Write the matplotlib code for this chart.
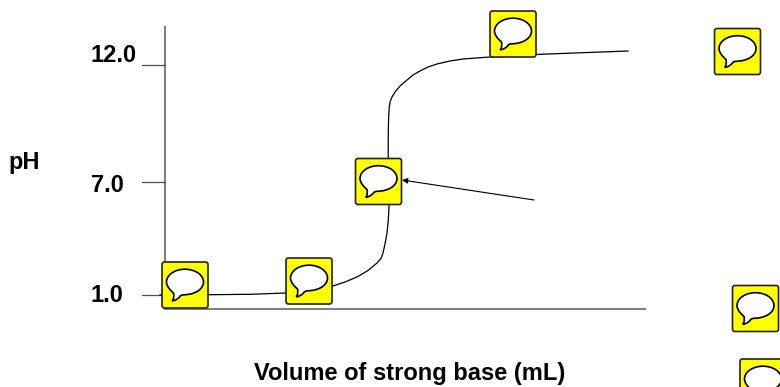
import matplotlib
matplotlib.use('Agg')
import matplotlib.pyplot as plt
import matplotlib.patches as mpatches
from matplotlib.path import Path

plt.rcParams['font.family'] = ['Liberation Sans', 'DejaVu Sans']

curve_x = [160, 210, 250, 286, 310, 333, 345, 357, 368, 377, 381, 383, 385, 387, 388.3, 389, 388.5, 388.2, 388.3, 388.6, 389.2, 390, 392, 395, 400, 407, 413, 420, 428, 437, 450, 463, 490, 535, 580, 628]
curve_y = [295, 294.7, 294.3, 293, 291, 286, 282, 277, 270.5, 263, 258.5, 253, 244, 233, 220, 207, 180, 150, 130, 118, 108, 102, 97, 92, 86, 80, 75, 71, 67, 64, 61, 59, 57, 54.5, 52.8, 51]

tick_y = [65, 181.5, 295]
tick_labels = ['12.0', '7.0', '1.0']
label_y = [62, 192, 302]

# centres of the yellow comment icons
icon_x = [185, 309, 378.5, 513, 737.5, 755.5, 763]
icon_y = [285, 281, 181.5, 34, 51.5, 308.5, 382]

fig = plt.figure(figsize=(7.8, 3.87), dpi=100)
ax = fig.add_axes([0, 0, 1, 1])
ax.set_xlim(0, 780)
ax.set_ylim(387, 0)
ax.axis('off')

# axes lines
ax.plot([165, 165], [27, 309], color='#808080', lw=1.5, zorder=1)
ax.plot([165, 645], [308.5, 308.5], color='#808080', lw=1.5, zorder=1)
for y in tick_y:
    ax.plot([142, 165], [y, y], color='#505050', lw=0.9, zorder=1)

ax.plot(curve_x, curve_y, color='black', lw=0.9, zorder=2)

# arrow to the equivalence point
ax.annotate('', xy=(402, 180), xytext=(534, 200),
            arrowprops=dict(arrowstyle='-|>', color='black', lw=0.8, mutation_scale=8, shrinkA=0, shrinkB=0), zorder=2)


def draw_icon(cx, cy):  # yellow box with a speech bubble
    box = mpatches.FancyBboxPatch((cx - 22, cy - 22), 44, 44, boxstyle='round,pad=1,rounding_size=2.5',
                                  fc='#ffff00', ec='#222222', lw=1.2, zorder=3)
    ax.add_patch(box)
    # bubble outline with tail, relative to the box centre
    k = 0.5523
    ex, ey, a, b = 0, -3, 18.5, 12.8
    verts = [(ex + a, ey),
             (ex + a, ey + k * b), (ex + k * a, ey + b), (ex - 2, ey + b),
             (ex - 2, ey + b), (ex - 5, ey + 13.5), (-5, 11.5),
             (-8, 15), (-12, 16), (-12.8, 15.7),
             (-11, 14), (-11, 11), (-11.5, 8),
             (ex - 15, ey + 8), (ex - a, ey + 4), (ex - a, ey),
             (ex - a, ey - k * b), (ex - k * a, ey - b), (ex, ey - b),
             (ex + k * a, ey - b), (ex + a, ey - k * b), (ex + a, ey)]
    codes = [Path.MOVETO] + [Path.CURVE4] * (len(verts) - 1)
    bubble = mpatches.PathPatch(Path([(cx + x, cy + y) for x, y in verts], codes),
                                fc='white', ec='black', lw=1.2, zorder=4)
    ax.add_patch(bubble)


for x, y in zip(icon_x, icon_y):
    draw_icon(x, y)

for y, s in zip(label_y, tick_labels):
    ax.text(91, y, s, fontsize=17, fontweight='bold', ha='left', va='baseline')
ax.text(8.5, 169, 'pH', fontsize=17, fontweight='bold', ha='left', va='baseline')
ax.text(410, 380, 'Volume of strong base (mL)', fontsize=17, fontweight='bold', ha='center', va='baseline')

fig.savefig('out.png', dpi=100)
